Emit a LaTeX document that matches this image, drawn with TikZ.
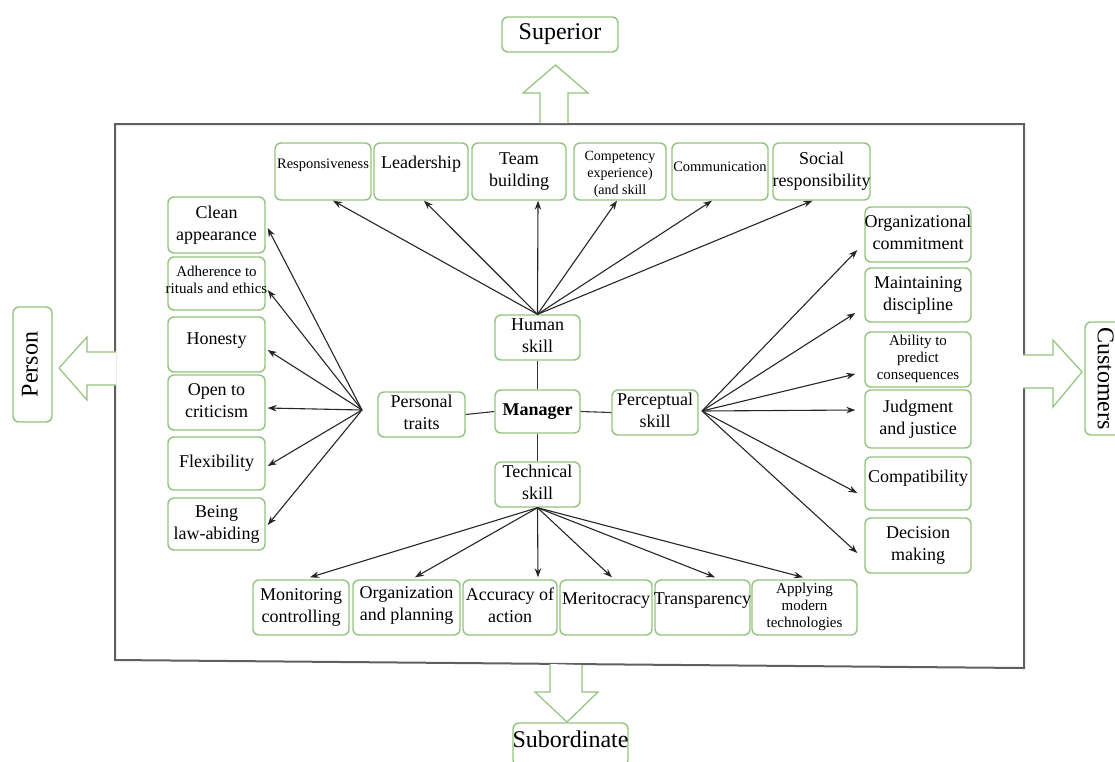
\documentclass[tikz,border=0pt]{standalone}
\usepackage{fontspec}
\setmainfont{Liberation Serif}
\usetikzlibrary{arrows.meta,calc}
\definecolor{gbox}{RGB}{146,196,125}
\definecolor{framec}{RGB}{95,95,95}
\newcommand\boxtext[2][0pt]{\raisebox{#1}[\height][\depth]{\makebox[0pt]{\begin{tabular}{@{}c@{}}#2\end{tabular}}}}
\begin{document}
\begin{tikzpicture}[x=1pt,y=-1pt,
  box/.style={draw=gbox, line width=1.4pt, rounded corners=6pt, fill=white, inner sep=0pt, font=\rmfamily\fontsize{18}{22}\selectfont},
  sm/.style={font=\rmfamily\fontsize{14.5}{17}\selectfont},
  big/.style={font=\rmfamily\fontsize{24}{26}\selectfont},
  arr/.style={-{Stealth[length=9pt,width=6.5pt]}, line width=1.1pt, black!85},
  link/.style={line width=1.1pt, black!80},
  block/.style={draw=gbox, line width=1.2pt, fill=white, line join=miter}]
\useasboundingbox (0,0) rectangle (1115,761);

% frame
\draw[framec, line width=2pt] (115,124) -- (1024,124) -- (1024,668) -- (115,660) -- cycle;

% block arrows
\draw[block] (540,123) -- (540,93) -- (523,93) -- (555.5,65) -- (588,93) -- (568,93) -- (568,123);
\draw[block] (116,352) -- (87,352) -- (87,337) -- (59,368) -- (87,400) -- (87,385) -- (116,385);
\draw[block] (1023,355) -- (1053,355) -- (1053,340) -- (1082,372) -- (1053,407) -- (1053,388) -- (1023,388);
\draw[block] (550,664) -- (550,692) -- (535,692) -- (567,722) -- (598,692) -- (582,692) -- (582,665);

% outer nodes
\node[box, big, minimum width=116pt, minimum height=35pt] (sup) at (560,34.5) {\boxtext{Superior}};
\node[box, big, minimum width=115pt, minimum height=43pt] (sub) at (570.5,744.5) {\boxtext[2pt]{Subordinate}};
\node[box, big, rotate=90, minimum width=115pt, minimum height=39pt] (person) at (32.5,364.5) {\boxtext{Person}};
\node[box, big, rotate=-90, minimum width=113pt, minimum height=36pt] (cust) at (1103,378.5) {\boxtext{Customers}};

% center
\node[box, minimum width=85pt, minimum height=45pt] (human) at (537.5,337.5) {\boxtext{Human\\skill}};
\node[box, minimum width=85pt, minimum height=43pt] (mgr) at (537.5,411.5) {\boxtext{\textbf{Manager}}};
\node[box, minimum width=87pt, minimum height=45pt] (pers) at (421.5,414.5) {\boxtext{Personal\\traits}};
\node[box, minimum width=86pt, minimum height=45pt] (perc) at (655,412.5) {\boxtext{Perceptual\\skill}};
\node[box, minimum width=85pt, minimum height=45pt] (tech) at (537.5,484.5) {\boxtext{Technical\\skill}};

\draw[link] (human.south) -- (mgr.north);
\draw[link] (pers.east) -- (mgr.west);
\draw[link] (mgr.east) -- (perc.west);
\draw[link] (mgr.south) -- (tech.north);

% top row
\node[box, sm, minimum width=96pt, minimum height=57pt] (resp) at (323,171.5) {\boxtext[6pt]{Responsiveness}};
\node[box, minimum width=94pt, minimum height=57pt] (lead) at (421,171.5) {\boxtext[7pt]{Leadership}};
\node[box, minimum width=94pt, minimum height=57pt] (team) at (519,171.5) {\boxtext{Team\\building}};
\node[box, font=\rmfamily\fontsize{14}{17}\selectfont, minimum width=92pt, minimum height=57pt] (comp) at (620,171.5) {\boxtext[-3pt]{Competency\\experience)\\(and skill}};
\node[box, sm, minimum width=96pt, minimum height=57pt] (comm) at (720,171.5) {\boxtext[3pt]{Communication}};
\node[box, minimum width=97pt, minimum height=57pt] (soc) at (821.5,171.5) {\boxtext{Social\\responsibility}};

% left column
\node[box, minimum width=97pt, minimum height=56pt] (clean) at (216.5,225) {\boxtext{Clean\\appearance}};
\node[box, font=\rmfamily\fontsize{15}{17}\selectfont, minimum width=97pt, minimum height=53pt] (adh) at (216.5,283.5) {\boxtext[2pt]{Adherence to\\rituals and ethics}};
\node[box, minimum width=97pt, minimum height=55pt] (hon) at (216.5,344.5) {\boxtext[4pt]{Honesty}};
\node[box, minimum width=97pt, minimum height=55pt] (open) at (216.5,402.5) {\boxtext{Open to\\criticism}};
\node[box, minimum width=97pt, minimum height=53pt] (flex) at (216.5,463.5) {\boxtext{Flexibility}};
\node[box, minimum width=97pt, minimum height=52pt] (being) at (216.5,524) {\boxtext{Being\\law-abiding}};

% right column
\node[box, minimum width=106pt, minimum height=55pt] (org) at (918,234.5) {\boxtext{Organizational\\commitment}};
\node[box, minimum width=106pt, minimum height=54pt] (maint) at (918,295) {\boxtext{Maintaining\\discipline}};
\node[box, font=\rmfamily\fontsize{15}{17}\selectfont, minimum width=106pt, minimum height=55pt] (abil) at (918,359.5) {\boxtext{Ability to\\predict\\consequences}};
\node[box, minimum width=106pt, minimum height=58pt] (judg) at (918,419) {\boxtext{Judgment\\and justice}};
\node[box, minimum width=106pt, minimum height=53pt] (compat) at (918,483.5) {\boxtext[5pt]{Compatibility}};
\node[box, minimum width=106pt, minimum height=55pt] (dec) at (918,545.5) {\boxtext{Decision\\making}};

% bottom row
\node[box, minimum width=96pt, minimum height=55pt] (mon) at (301,607.5) {\boxtext{Monitoring\\controlling}};
\node[box, minimum width=107pt, minimum height=55pt] (orgp) at (406.5,607.5) {\boxtext[2pt]{Organization\\and planning}};
\node[box, minimum width=94pt, minimum height=55pt] (acc) at (510,607.5) {\boxtext{Accuracy of\\action}};
\node[box, minimum width=92pt, minimum height=55pt] (mer) at (606,607.5) {\boxtext[7pt]{Meritocracy}};
\node[box, minimum width=95pt, minimum height=55pt] (trans) at (702.5,607.5) {\boxtext[7pt]{Transparency}};
\node[box, font=\rmfamily\fontsize{15}{17}\selectfont, minimum width=105pt, minimum height=55pt] (apply) at (804.5,607.5) {\boxtext{Applying\\modern\\technologies}};

% fan origins
\coordinate (pf) at (362,410);
\coordinate (rf) at (702,411);

% human skill arrows
\draw[arr] (human.north) -- ($(resp.south)+(10,0)$);
\draw[arr] (human.north) -- ($(lead.south)+(3,0)$);
\draw[arr] (human.north) -- ($(team.south)+(19,0)$);
\draw[arr] (human.north) -- ($(comp.south)+(-3,0)$);
\draw[arr] (human.north) -- ($(comm.south)+(-8,0)$);
\draw[arr] (human.north) -- ($(soc.south)+(-9,0)$);

% personal traits arrows
\draw[arr] (pf) -- ($(clean.east)+(2,3)$);
\draw[arr] (pf) -- ($(adh.east)+(2,6.5)$);
\draw[arr] (pf) -- ($(hon.east)+(2,5.5)$);
\draw[arr] (pf) -- ($(open.east)+(2,5.5)$);
\draw[arr] (pf) -- ($(flex.east)+(2,2.5)$);
\draw[arr] (pf) -- ($(being.east)+(2,1)$);

% perceptual arrows
\draw[arr] (rf) -- ($(org.west)+(-7,15.5)$);
\draw[arr] (rf) -- ($(maint.west)+(-9,18)$);
\draw[arr] (rf) -- ($(abil.west)+(-9,14.5)$);
\draw[arr] (rf) -- ($(judg.west)+(-9,-9)$);
\draw[arr] (rf) -- ($(compat.west)+(-7,9.5)$);
\draw[arr] (rf) -- ($(dec.west)+(-7,7.5)$);

% technical arrows
\draw[arr] (tech.south) -- ($(mon.north)+(9,-2)$);
\draw[arr] (tech.south) -- ($(orgp.north)+(8.5,-2)$);
\draw[arr] (tech.south) -- ($(acc.north)+(28,-2)$);
\draw[arr] (tech.south) -- ($(mer.north)+(6,-2)$);
\draw[arr] (tech.south) -- ($(trans.north)+(12.5,-2)$);
\draw[arr] (tech.south) -- ($(apply.north)+(-1.5,-2)$);
\end{tikzpicture}
\end{document}
